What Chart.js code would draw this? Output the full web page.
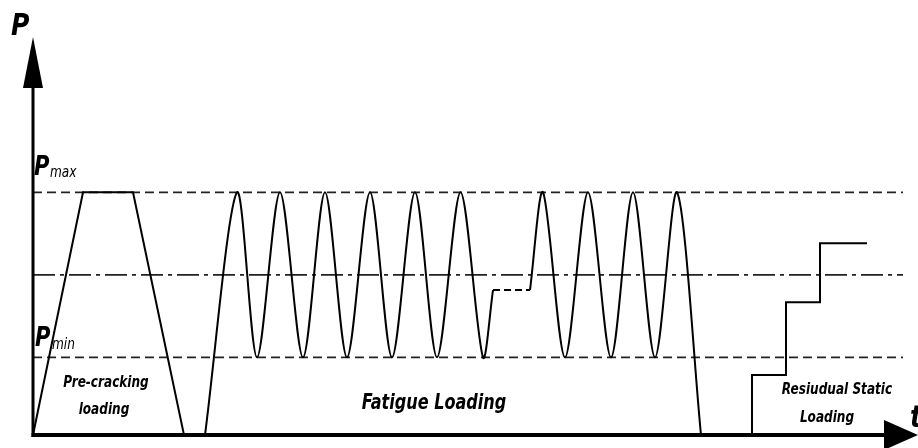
<!DOCTYPE html>
<html>
<head>
<meta charset="utf-8">
<script src="https://cdn.jsdelivr.net/npm/chart.js@4.4.1/dist/chart.umd.min.js"></script>
<style>
  html, body { margin: 0; padding: 0; background: #fff; }
  #wrap { width: 918px; height: 448px; }
</style>
</head>
<body>
<div id="wrap"><canvas id="myChart" width="918" height="448"></canvas></div>
<script>
// load levels (Pmax = 1)
var Pmax = 1.0
var Pmin = 0.32
var Pmean = 0.66
var levelEnd = 870

// pre-cracking trapezoid
var preTime = [0, 50, 100, 151]
var preLoad = [0, 1.0, 1.0, 0]

// fatigue loading, first block (peaks / troughs), ends where the hold starts
var fatigueTimeA = [172, 204, 224, 247, 270, 292, 314, 337, 359, 382, 404, 427.5, 450, 460]
var fatigueLoadA = [0, 1, 0.32, 1, 0.32, 1, 0.32, 1, 0.32, 1, 0.32, 1, 0.32, 0.597]

// hold (dashed)
var holdTime = [460, 497]
var holdLoad = [0.597, 0.597]

// fatigue loading, second block, then unloading
var fatigueTimeB = [497, 510, 532, 555, 578, 600, 622, 644, 668]
var fatigueLoadB = [0.597, 1, 0.32, 1, 0.32, 1, 0.32, 1, 0]

// residual static loading steps
var staticTime = [719, 719, 753, 787, 834]
var staticLoad = [0, 0.247, 0.547, 0.79, 0.79]

function pts(xs, ys) {
  var out = []
  for (var i = 0; i < xs.length; i++) out.push({x: xs[i], y: ys[i]})
  return out
}

var FONT = "'Liberation Sans Narrow', 'DejaVu Sans Condensed', 'Liberation Sans', sans-serif"

// condensed text helper
function label(ctx, text, x, y, font, align, sx) {
  ctx.save()
  ctx.font = font
  ctx.textAlign = align
  ctx.textBaseline = 'middle'
  ctx.translate(x, y)
  ctx.scale(sx, 1)
  ctx.fillText(text, 0, 0)
  ctx.restore()
}

var overlay = {
  id: 'overlay',
  afterDraw: function(chart) {
    var ctx = chart.ctx
    var a = chart.chartArea
    var x0 = chart.scales.x.getPixelForValue(0)
    var y0 = chart.scales.y.getPixelForValue(0)
    ctx.save()
    ctx.fillStyle = '#000'
    ctx.strokeStyle = '#000'

    // P axis + arrow
    ctx.lineWidth = 3
    ctx.beginPath(); ctx.moveTo(x0, y0 + 2); ctx.lineTo(x0, a.top + 48); ctx.stroke()
    ctx.beginPath(); ctx.moveTo(x0, a.top); ctx.lineTo(x0 - 10, a.top + 51); ctx.lineTo(x0 + 10, a.top + 51); ctx.closePath(); ctx.fill()

    // t axis + arrow
    ctx.lineWidth = 4
    ctx.beginPath(); ctx.moveTo(x0 - 1.5, y0); ctx.lineTo(a.right - 28, y0); ctx.stroke()
    ctx.beginPath(); ctx.moveTo(a.right + 3, y0); ctx.lineTo(a.right - 31, y0 - 15); ctx.lineTo(a.right - 31, y0 + 15); ctx.closePath(); ctx.fill()

    var yMax = chart.scales.y.getPixelForValue(Pmax)
    var yMin = chart.scales.y.getPixelForValue(Pmin)

    label(ctx, 'P', 11, 27, 'italic bold 31px ' + FONT, 'left', 0.9)
    label(ctx, 't', 910, 419, 'italic bold 31px ' + FONT, 'left', 0.9)

    label(ctx, 'P', 34, yMax - 24, 'italic bold 26px ' + FONT, 'left', 0.9)
    label(ctx, 'P', 35, yMin - 18, 'italic bold 26px ' + FONT, 'left', 0.9)
    label(ctx, 'max', 50, yMax - 19, 'italic 15px ' + FONT, 'left', 0.9)
    label(ctx, 'min', 52, yMin - 12, 'italic 15px ' + FONT, 'left', 0.9)

    label(ctx, 'Pre-cracking', 106, 383, 'italic bold 16px ' + FONT, 'center', 0.84)
    label(ctx, 'loading', 104, 410, 'italic bold 16px ' + FONT, 'center', 0.84)
    label(ctx, 'Resiudual Static', 837, 390, 'italic bold 16px ' + FONT, 'center', 0.84)
    label(ctx, 'Loading', 827, 418, 'italic bold 16px ' + FONT, 'center', 0.84)
    label(ctx, 'Fatigue Loading', 434, 404, 'italic bold 21px ' + FONT, 'center', 0.85)
    ctx.restore()
  }
}

var curve = {borderColor: '#000', borderWidth: 2, pointRadius: 0, fill: false, tension: 0}
var level = {borderColor: '#222', borderWidth: 1.8, pointRadius: 0, fill: false}

var myChart = document.getElementById("myChart").getContext("2d")
var chart = new Chart(myChart, {
  type: "line",
  data: {
    datasets: [
      Object.assign({}, curve, {label: 'Pre-cracking loading', data: pts(preTime, preLoad)}),
      Object.assign({}, curve, {label: 'Fatigue Loading', data: pts(fatigueTimeA, fatigueLoadA), tension: 0.3}),
      Object.assign({}, curve, {label: 'Hold', data: pts(holdTime, holdLoad), borderDash: [7, 4]}),
      Object.assign({}, curve, {label: 'Fatigue Loading 2', data: pts(fatigueTimeB, fatigueLoadB), tension: 0.3}),
      Object.assign({}, curve, {label: 'Resiudual Static Loading', data: pts(staticTime, staticLoad), stepped: true}),
      Object.assign({}, level, {label: 'Pmax', data: pts([0, levelEnd], [Pmax, Pmax]), borderDash: [9, 5]}),
      Object.assign({}, level, {label: 'Pmean', data: pts([0, levelEnd], [Pmean, Pmean]), borderDash: [22, 5, 4, 5]}),
      Object.assign({}, level, {label: 'Pmin', data: pts([0, levelEnd], [Pmin, Pmin]), borderDash: [9, 5]})
    ]
  },
  options: {
    responsive: false,
    animation: false,
    clip: false,
    layout: {padding: {left: 33, top: 37, right: 3, bottom: 13}},
    scales: {
      x: {type: 'linear', min: 0, max: 882, display: false},
      y: {type: 'linear', min: 0, max: 1.64, display: false}
    },
    plugins: {legend: {display: false}, tooltip: {enabled: false}}
  },
  plugins: [overlay]
})
</script>
</body>
</html>
